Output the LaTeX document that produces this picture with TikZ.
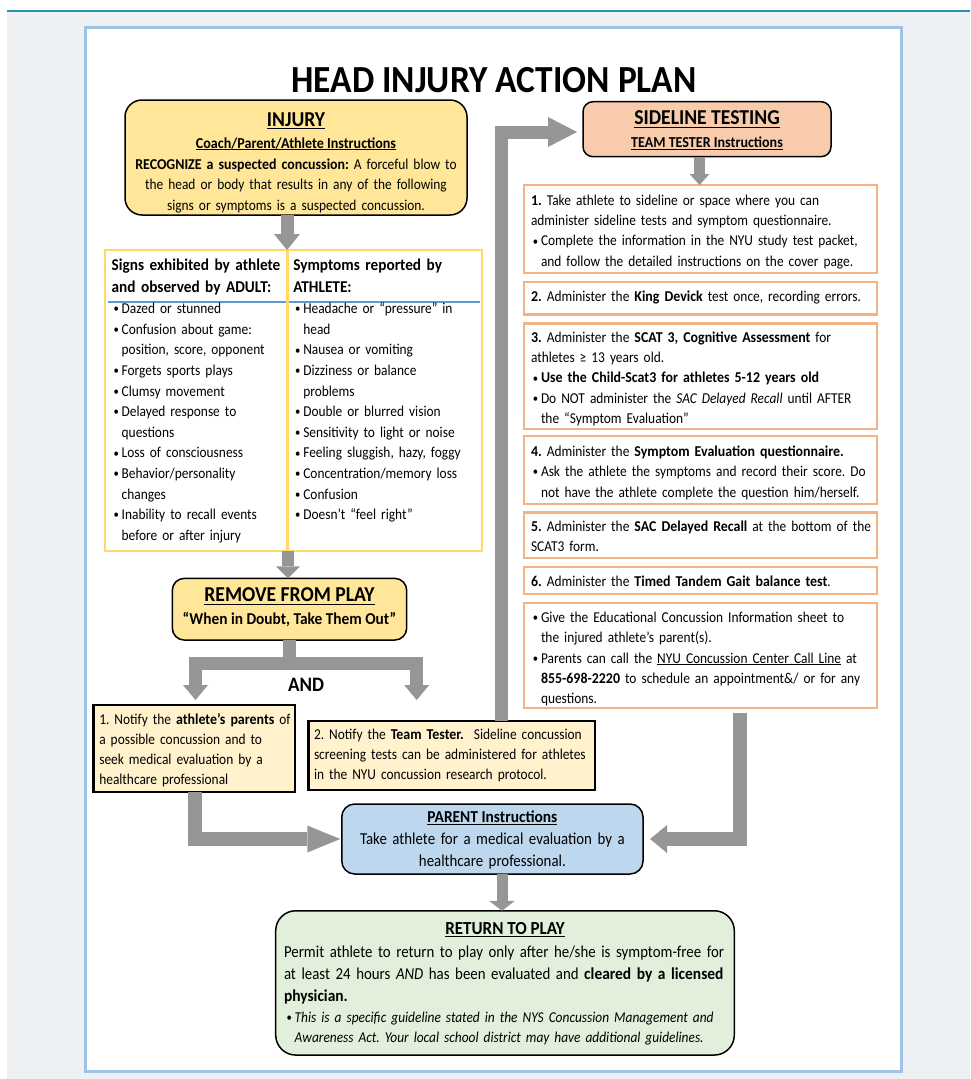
\documentclass[tikz,border=0pt]{standalone}
\usepackage{fontspec}
\setmainfont{Carlito}[UprightFeatures={FakeStretch=0.89},BoldFeatures={FakeStretch=0.925},ItalicFeatures={FakeStretch=0.89},BoldItalicFeatures={FakeStretch=0.925}]
\usetikzlibrary{arrows.meta}
\definecolor{pagebg}{HTML}{EDF1F4}
\definecolor{topline}{HTML}{2A93AA}
\definecolor{pageborder}{HTML}{9DC3E6}
\definecolor{arrowgray}{HTML}{969696}
\definecolor{goldfill}{HTML}{FFE699}
\definecolor{paleyellow}{HTML}{FFF2CC}
\definecolor{tableborder}{HTML}{FFD966}
\definecolor{bluerule}{HTML}{5B9BD5}
\definecolor{peachfill}{HTML}{F8CBAD}
\definecolor{stepborder}{HTML}{F4B183}
\definecolor{bluefill}{HTML}{BDD7EE}
\definecolor{greenfill}{HTML}{E2EFDA}
\newcommand\fsz[2]{\fontsize{#1}{#2}\selectfont}
\newsavebox\ulbox
\newcommand\ulin[1]{\leavevmode\sbox\ulbox{#1}\rlap{\rule[-0.16em]{\wd\ulbox}{0.065em}}\usebox\ulbox}
\newcommand\smbul{\raisebox{0.7pt}{\fontsize{12}{12}\selectfont\upshape\mdseries•}}
\newcommand\blt{\makebox[10pt][l]{\hspace{1.8pt}\smbul}}
\newcommand\hind{\hspace*{10pt}}
\frenchspacing
\begin{document}
\frenchspacing
\begin{tikzpicture}[x=1pt,y=-1pt,
  box/.style={inner sep=0pt, outer sep=0pt},
  rbox/.style={box, draw=black, line width=1.5pt},
  nbox/.style={box, draw=black, line width=2.5pt, fill=paleyellow},
  stepbox/.style={box, draw=stepborder, line width=2.5pt, fill=white, minimum width=353pt},
  txt/.style={inner sep=0pt, outer sep=0pt},
  head/.style={txt, font=\fsz{21.2}{24}\bfseries, anchor=base},
  subhead/.style={txt, font=\fsz{15.2}{18}\bfseries, anchor=base},
  body/.style={txt, font=\fsz{15.05}{20.4}, align=left, anchor=base west},
  arr/.style={draw=arrowgray, line width=13pt, line join=miter},
]
\useasboundingbox (0,0) rectangle (970,1079);
% page background
\fill[white] (0,0) rectangle (970,1079);
\fill[pagebg] (7,11) rectangle (970,1079);
\draw[topline, line width=2pt] (7,10.5) -- (970,10.5);
\draw[fill=white, draw=pageborder, line width=3pt] (85.5,27.5) rectangle (901.5,1071.5);

% title
\node[txt, font=\fsz{38.3}{40}\bfseries, anchor=base] (title) at (494,92) {HEAD INJURY ACTION PLAN};

% boxes
\node[rbox, fill=goldfill, rounded corners=17pt, minimum width=342pt, minimum height=115pt] (injury) at (296,157.5) {};
\node[box, draw=tableborder, line width=2.5pt, fill=white, minimum width=377pt, minimum height=301pt] (table) at (293.5,400.5) {};
\draw[bluerule, line width=1.5pt] (108,302) -- (479.5,302);
\coordinate (divx) at (287.5,0);
\draw[tableborder, line width=2.5pt] (table.north -| divx) -- (table.south -| divx);
\node[rbox, fill=goldfill, rounded corners=12pt, minimum width=234.4pt, minimum height=61.7pt] (remove) at (289.5,609.2) {};
\node[nbox, minimum width=201.7pt, minimum height=86.7pt] (notifya) at (194.2,748.4) {};
\node[nbox, minimum width=286.7pt, minimum height=69.3pt] (notifyb) at (451.65,755.4) {};
\node[rbox, fill=peachfill, rounded corners=10pt, minimum width=248pt, minimum height=55pt] (sideline) at (707,129.2) {};
\node[stepbox, minimum height=88pt] (s1) at (700.5,229) {};
\node[stepbox, minimum height=32.3pt] (s2) at (700.5,298.2) {};
\node[stepbox, minimum height=105.7pt] (s3) at (700.5,376.2) {};
\node[stepbox, minimum height=68.3pt] (s4) at (700.5,469.9) {};
\node[stepbox, minimum height=45.7pt] (s5) at (700.5,535.2) {};
\node[stepbox, minimum height=27pt] (s6) at (700.5,580.5) {};
\node[stepbox, minimum height=105.3pt] (s7) at (700.5,655.4) {};
\node[rbox, fill=bluefill, rounded corners=13pt, minimum width=301.3pt, minimum height=70pt] (parent) at (492.4,839) {};
\node[rbox, fill=greenfill, rounded corners=20pt, minimum width=458.6pt, minimum height=144.3pt] (ret) at (505,982.9) {};

% connectors
\coordinate (a1x) at (287,0);
\draw[arr, -{Triangle[length=16pt,width=26pt,line width=0pt]}] (injury.south -| a1x) -- (table.north -| a1x);
\coordinate (a2x) at (288,0);
\draw[arr, line width=12.5pt, -{Triangle[length=12pt,width=24pt,line width=0pt]}] (table.south -| a2x) -- (remove.north -| a2x);
\coordinate (bj) at (289,663.5);
\coordinate (bl) at (195.5,700);
\coordinate (br) at (416.7,700);
\draw[arr, -{Triangle[length=15pt,width=25pt,line width=0pt]}] (remove.south -| bj) -- (bj) -| (bl);
\draw[arr, -{Triangle[length=15pt,width=25pt,line width=0pt]}] (bj) -| (br);
\coordinate (a4c) at (501,132);
\draw[arr, -{Triangle[length=29pt,width=30pt,line width=0pt]}] (notifyb.north -| a4c) -- (a4c) -- ([xshift=-6pt]sideline.west |- a4c);
\coordinate (a5x) at (699.5,0);
\draw[arr, line width=11pt, -{Triangle[length=11pt,width=20pt,line width=0pt]}] (sideline.south -| a5x) -- (s1.north -| a5x);
\coordinate (a6s) at (740,713);
\draw[arr, line width=14pt, -{Triangle[length=17pt,width=28pt,line width=0pt]}] (a6s) |- ([xshift=7pt]parent.east);
\coordinate (a7x) at (195,0);
\draw[arr, line width=14pt, -{Triangle[length=33pt,width=27pt,line width=0pt]}] (notifya.south -| a7x) |- ([xshift=-1.5pt]parent.west);
\coordinate (a8x) at (502,0);
\draw[arr, line width=11pt, -{Triangle[length=10pt,width=26pt,line width=0pt]}] (parent.south -| a8x) -- (ret.north -| a8x);

% INJURY text
\node[head] (injT) at (296,126) {\ulin{INJURY}};
\node[subhead] (injS) at (296,148) {\ulin{Coach/Parent/Athlete Instructions}};
\node[txt, font=\fsz{15.05}{20.5}, text width=335pt, align=center, anchor=base] (injB) at (296,169)
  {\textbf{RECOGNIZE a suspected concussion:} A forceful blow to\\ the head or body that results in any of the following\\ signs or symptoms is a suspected concussion.};

% table text
\node[txt, font=\fsz{16.5}{21.6}\bfseries, text width=175pt, align=left, anchor=base west] (sigH) at (111.7,270.7)
  {Signs exhibited by athlete\\ and observed by ADULT:};
\node[txt, font=\fsz{16.5}{21.6}\bfseries, text width=180pt, align=left, anchor=base west] (symH) at (293.3,270.7)
  {Symptoms reported by\\ ATHLETE:};
\node[body, font=\fsz{15.05}{20.6}, text width=175pt] (sigL) at (111.7,313.6)
  {\blt Dazed or stunned\\
   \blt Confusion about game:\\
   \hind position, score, opponent\\
   \blt Forgets sports plays\\
   \blt Clumsy movement\\
   \blt Delayed response to\\
   \hind questions\\
   \blt Loss of consciousness\\
   \blt Behavior/personality\\
   \hind changes\\
   \blt Inability to recall events\\
   \hind before or after injury};
\node[body, font=\fsz{15.05}{20.6}, text width=185pt] (symL) at (293.3,313.6)
  {\blt Headache or “pressure” in\\
   \hind head\\
   \blt Nausea or vomiting\\
   \blt Dizziness or balance\\
   \hind problems\\
   \blt Double or blurred vision\\
   \blt Sensitivity to light or noise\\
   \blt Feeling sluggish, hazy, foggy\\
   \blt Concentration/memory loss\\
   \blt Confusion\\
   \blt Doesn’t “feel right”};

% REMOVE text
\node[head] (remT) at (289.5,601.8) {\ulin{REMOVE FROM PLAY}};
\node[txt, font=\fsz{16.6}{20}\bfseries, anchor=base] (remS) at (289.5,624.7) {“When in Doubt, Take Them Out”};
\node[txt, font=\fsz{20.5}{24}\bfseries, anchor=base] (andT) at (306,691.6) {AND};

% notify text
\node[body, font=\fsz{15.05}{20}, text width=210pt] (na) at (99.3,724.3)
  {1. Notify the \textbf{athlete’s parents} of\\ a possible concussion and to\\ seek medical evaluation by a\\ healthcare professional};
\node[body, font=\fsz{15.05}{20}, text width=300pt] (nb) at (314,739.3)
  {2. Notify the \textbf{Team Tester.}\ \ Sideline concussion\\ screening tests can be administered for athletes\\ in the NYU concussion research protocol.};

% SIDELINE text
\node[head] (sdT) at (707,124.5) {\ulin{SIDELINE TESTING}};
\node[subhead] (sdS) at (707,147.5) {\ulin{TEAM TESTER Instructions}};

% steps text
\node[body, font=\fsz{15.05}{20.3}, text width=370pt] (t1) at (531,205.3)
  {\textbf{1.} Take athlete to sideline or space where you can\\
   administer sideline tests and symptom questionnaire.\\
   \blt Complete the information in the NYU study test packet,\\
   \hind and follow the detailed instructions on the cover page.};
\node[body, text width=370pt] (t2) at (531,301.6)
  {\textbf{2.} Administer the \textbf{King Devick} test once, recording errors.};
\node[body, font=\fsz{15.05}{20.3}, text width=370pt] (t3) at (531,342.3)
  {\textbf{3.} Administer the \textbf{SCAT 3, Cognitive Assessment} for\\
   athletes ≥ 13 years old.\\
   \blt\textbf{Use the Child-Scat3 for athletes 5-12 years old}\\
   \blt Do NOT administer the \textit{SAC Delayed Recall} until AFTER\\
   \hind the “Symptom Evaluation”};
\node[body, font=\fsz{15.05}{20.5}, text width=370pt] (t4) at (531,456)
  {\textbf{4.} Administer the \textbf{Symptom Evaluation questionnaire.}\\
   \blt Ask the athlete the symptoms and record their score. Do\\
   \hind not have the athlete complete the question him/herself.};
\node[body, font=\fsz{15.05}{20}, text width=370pt] (t5) at (531,531.6)
  {\textbf{5.} Administer the \textbf{SAC Delayed Recall} at the bottom of the\\ SCAT3 form.};
\node[body, text width=370pt] (t6) at (531,586)
  {\textbf{6.} Administer the \textbf{Timed Tandem Gait balance test}.};
\node[body, font=\fsz{15.05}{20.2}, text width=370pt] (t7) at (531,622.6)
  {\blt Give the Educational Concussion Information sheet to\\
   \hind the injured athlete’s parent(s).\\
   \blt Parents can call the \ulin{NYU Concussion Center Call Line} at\\
   \hind\textbf{855-698-2220} to schedule an appointment\&/ or for any\\
   \hind questions.};

% PARENT text
\node[txt, font=\fsz{16.7}{20}\bfseries, anchor=base] (parT) at (492.4,822.5) {\ulin{PARENT Instructions}};
\node[txt, font=\fsz{16.7}{21.7}, text width=310pt, align=center, anchor=base] (parB) at (492.4,844.7)
  {Take athlete for a medical evaluation by a\\ healthcare professional.};

% RETURN text
\node[txt, font=\fsz{18.4}{22}\bfseries, anchor=base] (retT) at (505,934.3) {\ulin{RETURN TO PLAY}};
\node[body, font=\fsz{16.7}{22.2}, text width=480pt] (retB) at (284,957)
  {Permit athlete to return to play only after he/she is symptom-free for\\
   at least 24 hours \textit{AND} has been evaluated and \textbf{cleared by a licensed}\\
   \textbf{physician.}};
\node[body, font=\fsz{15.05}{20}, text width=480pt] (retN) at (284,1022.5)
  {\makebox[10.7pt][l]{\hspace{2.7pt}\smbul}\textit{This is a specific guideline stated in the NYS Concussion Management and}\\
   \hspace*{10.7pt}\textit{Awareness Act. Your local school district may have additional guidelines.}};
\end{tikzpicture}
\end{document}
